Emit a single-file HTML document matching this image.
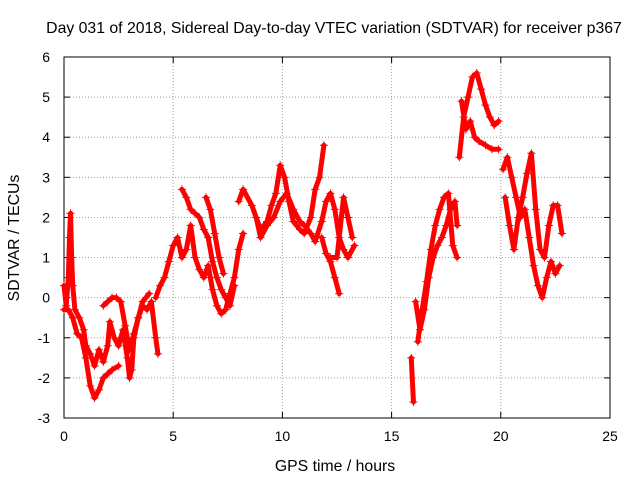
<!DOCTYPE html>
<html><head><meta charset="utf-8"><style>
body{margin:0;background:#fff}
svg{display:block;font-family:"Liberation Sans",sans-serif}
</style></head><body>
<svg id="chart" width="640" height="480">
<rect width="640" height="480" fill="#fff"/>
<text x="334" y="33" font-size="15.8" text-anchor="middle">Day 031 of 2018, Sidereal Day-to-day VTEC variation (SDTVAR) for receiver p367</text>
<g id="grid"></g>
<g id="axes"></g>
<g id="series"></g>
<text x="335" y="471" font-size="15.8" text-anchor="middle">GPS time / hours</text>
<text transform="translate(19,238) rotate(-90)" font-size="15.8" text-anchor="middle">SDTVAR / TECUs</text>
</svg>
<script>
const xTicks=[0,5,10,15,20,25];
const yTicks=[-3,-2,-1,0,1,2,3,4,5,6];
const trackA=[[0,0.3],[0.1,-0.2],[0.2,0.5],[0.25,1.5],[0.3,2.1],[0.35,1.0],[0.4,0.3],[0.5,-0.3],[0.7,-0.5],[0.9,-0.8],[1.0,-1.2],[1.2,-1.4],[1.4,-1.7],[1.6,-1.3],[1.8,-1.6],[2.0,-1.2],[2.1,-0.6],[2.3,-1.0],[2.5,-1.2],[2.7,-0.8],[2.9,-1.5],[3.0,-2.0],[3.1,-1.8],[3.2,-1.0],[3.4,-0.5],[3.6,-0.2],[3.8,-0.3],[4.0,-0.1],[4.2,-1.0],[4.3,-1.4]];
const trackB=[[0,-0.3],[0.2,-0.3],[0.4,-0.5],[0.6,-0.9],[0.8,-1.0],[1.0,-1.5],[1.2,-2.2],[1.4,-2.5],[1.6,-2.3],[1.8,-2.0],[2.0,-1.9],[2.2,-1.8],[2.5,-1.7]];
const trackC=[[1.8,-0.2],[2.0,-0.1],[2.2,0.0],[2.4,0.0],[2.6,-0.1],[2.8,-0.7],[3.0,-1.3],[3.2,-0.9],[3.4,-0.5],[3.6,-0.1],[3.9,0.1]];
const trackD=[[4.2,0.0],[4.4,0.3],[4.6,0.5],[4.8,0.9],[5.0,1.3],[5.2,1.5],[5.4,1.0],[5.6,1.2],[5.8,1.8],[6.0,1.0],[6.2,0.7],[6.4,0.5],[6.6,0.8],[6.8,0.2],[7.0,-0.2],[7.2,-0.4],[7.4,-0.3],[7.6,0.1],[7.8,0.5],[8.0,1.2],[8.2,1.6]];
const trackE=[[5.4,2.7],[5.6,2.5],[5.8,2.2],[6.0,2.1],[6.2,2.0],[6.4,1.7],[6.6,1.5],[6.8,0.9],[7.0,0.5],[7.2,0.2],[7.4,0.0],[7.6,-0.2],[7.8,0.3]];
const trackF=[[6.5,2.5],[6.7,2.2],[6.9,1.6],[7.1,1.0],[7.3,0.6]];
const trackG=[[8.0,2.4],[8.2,2.7],[8.6,2.3],[8.8,2.0],[9.0,1.7],[9.3,1.9],[9.5,2.3],[9.7,2.6],[9.9,3.3],[10.1,3.0],[10.3,2.4],[10.5,1.9],[10.8,1.7],[11.0,1.6],[11.3,2.0],[11.5,2.7],[11.7,3.0],[11.9,3.8]];
const trackH=[[8.8,2.0],[9.0,1.5],[9.3,1.8],[9.6,2.0],[9.9,2.4],[10.2,2.6],[10.5,2.2],[10.8,1.9],[11.0,1.8],[11.3,1.6],[11.5,1.4],[11.8,1.9],[12.0,2.4],[12.2,2.6],[12.4,2.2],[12.6,1.5],[12.8,1.2],[13.0,1.0],[13.3,1.3]];
const trackI=[[11.8,1.5],[12.0,1.1],[12.2,0.9],[12.4,0.5],[12.6,0.1]];
const trackI2=[[12.2,1.0],[12.5,1.0],[12.8,2.5],[13.0,2.0],[13.2,1.5]];
const trackJ=[[15.9,-1.5],[16.0,-2.6]];
const trackK=[[16.1,-0.1],[16.3,-0.8],[16.5,-0.3],[16.7,0.5],[16.9,1.0],[17.1,1.3],[17.3,1.5],[17.5,1.8],[17.7,2.2],[17.9,2.4],[18.0,1.8]];
const trackL=[[16.2,-1.1],[16.4,-0.3],[16.6,0.4],[16.8,1.2],[17.0,1.8],[17.2,2.2],[17.4,2.5],[17.6,2.6],[17.8,1.3],[18.0,1.0]];
const trackM=[[18.1,3.5],[18.3,4.5],[18.5,5.0],[18.7,5.5],[18.9,5.6],[19.1,5.2],[19.3,4.8],[19.5,4.5],[19.7,4.3],[19.9,4.4]];
const trackN=[[18.2,4.9],[18.4,4.2],[18.6,4.4],[18.8,4.0],[19.0,3.9],[19.3,3.8],[19.6,3.7],[19.9,3.7]];
const trackO=[[20.1,3.2],[20.3,3.5],[20.5,3.0],[20.7,2.5],[20.9,2.0],[21.1,2.2],[21.3,1.5],[21.5,0.8],[21.7,0.3],[21.9,0.0],[22.1,0.5],[22.3,0.9],[22.5,0.6],[22.7,0.8]];
const trackP=[[20.2,2.5],[20.4,1.8],[20.6,1.2],[20.8,2.0],[21.0,2.5],[21.2,3.1],[21.4,3.6],[21.6,2.2],[21.8,1.2],[22.0,1.0],[22.2,1.8],[22.4,2.3],[22.6,2.3],[22.8,1.6]];
const tracks=[trackA,trackB,trackC,trackD,trackE,trackF,trackG,trackH,trackI,trackI2,trackJ,trackK,trackL,trackM,trackN,trackO,trackP];

const L=64,R=610,T=57,B=418;
const xs=v=>L+(v-0)/25*(R-L);
const ys=v=>B-(v+3)/9*(B-T);
const NS="http://www.w3.org/2000/svg";
function mk(tag,attrs,parent){const e=document.createElementNS(NS,tag);for(const k in attrs)e.setAttribute(k,attrs[k]);parent.appendChild(e);return e;}
const grid=document.getElementById('grid'),axes=document.getElementById('axes'),ser=document.getElementById('series');
xTicks.forEach(t=>{const x=xs(t);
 if(t>0&&t<25){const g=mk('line',{x1:x,x2:x,y1:T,y2:B,stroke:'#a0a0a0','stroke-dasharray':'1,2'},grid);}
 mk('line',{x1:x,x2:x,y1:B,y2:B-6,stroke:'#000'},axes);mk('line',{x1:x,x2:x,y1:T,y2:T+6,stroke:'#000'},axes);
 const tx=mk('text',{x:x,y:B+23,'font-size':14,'text-anchor':'middle'},axes);tx.textContent=t;
 });
yTicks.forEach(t=>{const y=ys(t);
 if(t>-3&&t<6){const g=mk('line',{x1:L,x2:R,y1:y,y2:y,stroke:'#a0a0a0','stroke-dasharray':'1,2'},grid);}
 mk('line',{x1:L,x2:L+6,y1:y,y2:y,stroke:'#000'},axes);mk('line',{x1:R,x2:R-6,y1:y,y2:y,stroke:'#000'},axes);
 const tx=mk('text',{x:L-14,y:y+5,'font-size':14,'text-anchor':'end'},axes);tx.textContent=t;
 });
const fr=mk('rect',{x:L,y:T,width:R-L,height:B-T,fill:'none',stroke:'#000'},axes);


tracks.forEach(tr=>{
 const pl=mk('polyline',{points:tr.map(p=>xs(p[0])+','+ys(p[1])).join(' '),fill:'none',stroke:'#f00','stroke-width':5,'stroke-linejoin':'round','stroke-linecap':'round'},ser);
 
 
 tr.forEach(p=>{const x=xs(p[0]),y=ys(p[1]);
  const m=mk('path',{d:`M${x-4},${y}h8M${x},${y-4}v8`,stroke:'#f00','stroke-width':1},ser);
  
  });
});
</script>
</body></html>
